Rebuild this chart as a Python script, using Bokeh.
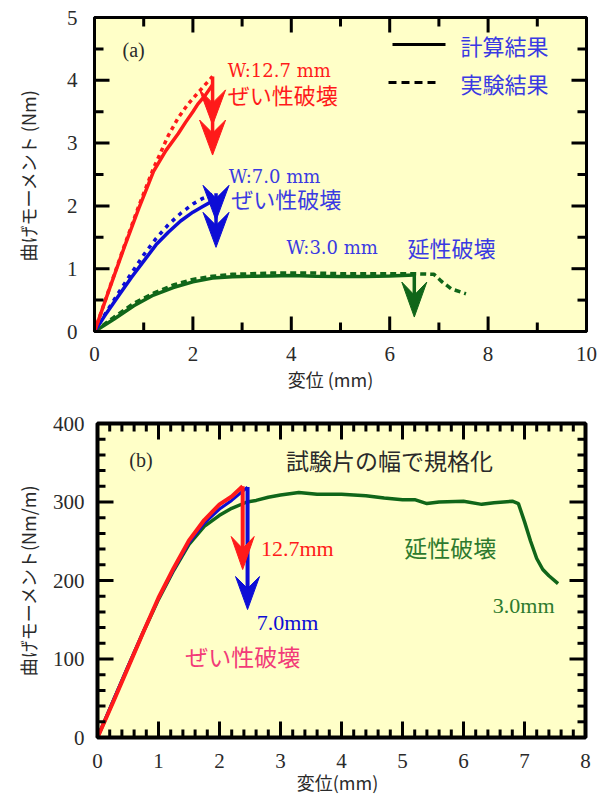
import math
from bokeh.plotting import figure
from bokeh.layouts import column
from bokeh.models import Range1d, Label
from bokeh.core.properties import value
from bokeh.embed import file_html
from bokeh.resources import INLINE

# ---------------- (a) bending moment vs displacement, Nm ----------------
a_xticks = [0, 2, 4, 6, 8, 10]
a_yticks = [0, 1, 2, 3, 4, 5]

a_red_calc_x = [0, 0.3, 0.6, 0.9, 1.2, 1.45, 1.7, 1.85, 2.0, 2.1, 2.25, 2.4]
a_red_calc_y = [0, 0.67, 1.33, 1.96, 2.55, 2.88, 3.15, 3.33, 3.5, 3.62, 3.76, 3.93]
a_red_exp_x = [0, 0.3, 0.6, 0.9, 1.2, 1.5, 1.7, 1.9, 2.1, 2.25, 2.4]
a_red_exp_y = [0, 0.68, 1.35, 2.0, 2.6, 3.12, 3.4, 3.62, 3.8, 3.93, 4.06]

a_blue_calc_x = [0, 0.25, 0.5, 0.75, 1.0, 1.25, 1.5, 1.75, 2.0, 2.2, 2.45]
a_blue_calc_y = [0, 0.3, 0.58, 0.86, 1.12, 1.38, 1.58, 1.76, 1.9, 1.99, 2.1]
a_blue_exp_x = [0, 0.25, 0.5, 0.75, 1.0, 1.25, 1.5, 1.75, 2.0, 2.2, 2.45]
a_blue_exp_y = [0, 0.32, 0.63, 0.93, 1.22, 1.48, 1.7, 1.88, 2.03, 2.12, 2.2]

a_green_calc_x = [0, 0.4, 0.8, 1.2, 1.6, 2.0, 2.4, 2.8, 3.2, 3.6, 4.0, 4.5, 5.0, 5.5, 6.0, 6.5]
a_green_calc_y = [0, 0.2, 0.41, 0.58, 0.7, 0.79, 0.85, 0.87, 0.88, 0.885, 0.89, 0.88, 0.875, 0.875, 0.885, 0.9]
a_green_exp_x = [0, 0.4, 0.8, 1.2, 1.6, 2.0, 2.4, 2.8, 3.2, 3.6, 4.0, 4.5, 5.0, 5.5, 6.0, 6.5,
                 6.9, 7.05, 7.25, 7.55]
a_green_exp_y = [0, 0.23, 0.45, 0.61, 0.74, 0.83, 0.88, 0.91, 0.92, 0.93, 0.93, 0.93, 0.92, 0.92,
                 0.92, 0.92, 0.91, 0.8, 0.68, 0.6]

# fracture arrows: where the shaft sits and where each head points
a_red_fail_x, a_red_heads = 2.4, [3.29, 2.81]
a_blue_fail_x, a_blue_heads = 2.47, [1.77, 1.34]
a_green_fail_x, a_green_heads = 6.5, [0.23]

# ---------------- (b) normalised by specimen width, Nm/m ----------------
b_xticks = [0, 1, 2, 3, 4, 5, 6, 7, 8]
b_yticks = [0, 100, 200, 300, 400]

b_green_x = [0, 0.25, 0.5, 0.75, 1.0, 1.25, 1.5, 1.75, 2.0, 2.2, 2.45, 2.6, 2.8, 3.0, 3.3,
             3.6, 4.0, 4.4, 4.7, 5.0, 5.2, 5.4, 5.6, 6.0, 6.3, 6.5, 6.8, 6.9, 7.0, 7.1,
             7.2, 7.3, 7.4, 7.55]
b_green_y = [0, 45, 90, 134, 176, 213, 246, 269, 283, 292, 300, 302, 306, 309, 312,
             310, 310, 308, 305, 303, 303, 298, 300, 301, 297, 299, 301, 298, 275, 250,
             228, 214, 206, 196]
b_blue_x = [0, 0.25, 0.5, 0.75, 1.0, 1.25, 1.5, 1.75, 2.0, 2.2, 2.46]
b_blue_y = [0, 46, 91, 135, 177, 214, 248, 273, 291, 302, 319]
b_red_x = [0, 0.25, 0.5, 0.75, 1.0, 1.25, 1.5, 1.75, 2.0, 2.2, 2.38]
b_red_y = [0, 44, 89, 134, 178, 216, 251, 277, 297, 307, 320]

b_red_heads = [214]
b_blue_heads = [163]

BG = "#ffffc8"
RED = "#ff1a1a"
BLUE = "#0d0dd6"
GREEN = "#106619"
TXT_BLUE = "#3a3ae2"
PINK = "#f23a78"
GREEN_TXT = "#2e7a2e"
INK = "#2a2a2a"
JP = "Noto Sans CJK JP"
SERIF = "Liberation Serif"


def panel(W, H, box, xr, yr):
    """A figure whose whole canvas is the data frame; the plotting box (box = left, right,
    top, bottom in pixels) is drawn inside it so that ticks and labels sit around it."""
    bl, br, bt, bb = box
    sx = (br - bl) / (xr[1] - xr[0])
    sy = (bb - bt) / (yr[1] - yr[0])
    p = figure(x_range=Range1d(xr[0] - bl / sx, xr[1] + (W - br) / sx),
               y_range=Range1d(yr[0] - (H - bb) / sy, yr[1] + bt / sy),
               frame_width=W, frame_height=H,
               min_border_left=0, min_border_right=0, min_border_top=0, min_border_bottom=0,
               x_axis_type=None, y_axis_type=None,
               output_backend="svg", toolbar_location=None,
               background_fill_color="white", border_fill_color="white",
               outline_line_color=None)
    p.quad(left=[xr[0]], right=[xr[1]], bottom=[yr[0]], top=[yr[1]],
           fill_color=BG, line_color=None)
    return p, sx, sy


def tick_positions(lo, hi, maj, mn, lmaj, lmin):
    n = int(round((hi - lo) / mn))
    out = []
    for k in range(n + 1):
        v = float(lo + k * mn)
        out.append((v, lmaj if abs(v / maj - round(v / maj)) < 1e-6 else lmin))
    return out


def frame_and_ticks(p, xr, yr, xmaj, xmin, ymaj, ymin, sx, sy, lmaj, lmin, width):
    """Inward ticks on all four sides (one short line each), then the black frame."""
    x_lo, x_hi, y_lo, y_hi = float(xr[0]), float(xr[1]), float(yr[0]), float(yr[1])
    for v, L in tick_positions(x_lo, x_hi, xmaj, xmin, lmaj, lmin):
        p.line([v, v], [y_lo, y_lo + L / sy], line_color="black", line_width=3)
        p.line([v, v], [y_hi, y_hi - L / sy], line_color="black", line_width=3)
    for v, L in tick_positions(y_lo, y_hi, ymaj, ymin, lmaj, lmin):
        p.line([x_lo, x_lo + L / sx], [v, v], line_color="black", line_width=3)
        p.line([x_hi, x_hi - L / sx], [v, v], line_color="black", line_width=3)
    p.quad(left=[x_lo], right=[x_hi], bottom=[y_lo], top=[y_hi],
           fill_color=None, line_color="black", line_width=width)


def tick_labels(p, xr, yr, xticks, yticks, sx, sy, xoff_px, yoff_px):
    p.text(x=xticks, y=[yr[0] - xoff_px / sy] * len(xticks), text=[str(v) for v in xticks],
           text_font=value(SERIF), text_font_size="21px", text_color=INK,
           text_align="center", text_baseline="middle")
    p.text(x=[xr[0] - yoff_px / sx] * len(yticks), y=yticks, text=[str(v) for v in yticks],
           text_font=value(SERIF), text_font_size="21px", text_color=INK,
           text_align="right", text_baseline="middle")


def titles(p, xtitle, ytitle, xt_pos, yt_pos):
    p.text(x=[xt_pos[0]], y=[xt_pos[1]], text=[xtitle], text_font=value(JP),
           text_font_size="18px", text_color=INK, text_align="center", text_baseline="middle")
    p.text(x=[yt_pos[0]], y=[yt_pos[1]], text=[ytitle], text_font=value(JP),
           text_font_size="18px", text_color=INK, text_align="center", text_baseline="middle",
           angle=math.pi / 2)


def draw_arrow(p, x, top, tips, color, sx, sy, w_px, h_px, notch_px, shaft_w):
    p.line([x, x], [top, min(tips) + h_px * 0.4 / sy], line_color=color, line_width=shaft_w)
    xs, ys = [], []
    hw = w_px / 2 / sx
    for tip in tips:
        xs.append([x, x + hw, x, x - hw])
        ys.append([tip, tip + h_px / sy, tip + (h_px - notch_px) / sy, tip + h_px / sy])
    p.patches(xs, ys, fill_color=color, line_color=color, line_width=1)


def lbl(p, x, y, text, color, font, size, align="left"):
    p.add_layout(Label(x=x, y=y, text=text, text_color=color, text_font=font,
                       text_font_size=size, text_baseline="middle", text_align=align))


# ---------------- panel (a) ----------------
XRA, YRA = (0, 10), (0, 5)
pa, sxa, sya = panel(603, 395, (94, 586, 17, 331), XRA, YRA)

pa.line(a_green_exp_x, a_green_exp_y, color=GREEN, line_width=3.5, line_dash="6 4")
pa.line(a_green_calc_x, a_green_calc_y, color=GREEN, line_width=3.5)
pa.line(a_blue_exp_x, a_blue_exp_y, color=BLUE, line_width=3.5, line_dash="4 5")
pa.line(a_blue_calc_x, a_blue_calc_y, color=BLUE, line_width=3.5)
pa.line(a_red_exp_x, a_red_exp_y, color=RED, line_width=3.5, line_dash="4 4")
pa.line(a_red_calc_x, a_red_calc_y, color=RED, line_width=3.5)

draw_arrow(pa, a_red_fail_x, max(a_red_exp_y[-1], a_red_calc_y[-1]), a_red_heads,
           RED, sxa, sya, 26, 35, 13, 3.5)
draw_arrow(pa, a_blue_fail_x, max(a_blue_exp_y[-1], a_blue_calc_y[-1]), a_blue_heads,
           BLUE, sxa, sya, 26, 35, 13, 3.5)
draw_arrow(pa, a_green_fail_x, a_green_exp_y[a_green_exp_x.index(6.5)], a_green_heads,
           GREEN, sxa, sya, 25, 35, 13, 3.5)

frame_and_ticks(pa, XRA, YRA, 2, 1, 1, 0.5, sxa, sya, 15, 9, 3)
tick_labels(pa, XRA, YRA, a_xticks, a_yticks, sxa, sya, 22, 17)
titles(pa, "変位 (mm)", "曲げモーメント (Nm)",
       (XRA[0] + 236 / sxa, YRA[0] - 47 / sya), (XRA[0] - 67 / sxa, YRA[0] + 156 / sya))


# key: black solid = computed, black dashed = measured (placed in pixels from the box corner)
def box_px_a(px, py):
    return XRA[0] + px / sxa, YRA[1] - py / sya


k1a, k1b = box_px_a(298, 27), box_px_a(351, 27)
k2a, k2b = box_px_a(294, 65), box_px_a(343, 65)
pa.line([k1a[0], k1b[0]], [k1a[1], k1b[1]], color="black", line_width=3)
pa.line([k2a[0], k2b[0]], [k2a[1], k2b[1]], color="black", line_width=3, line_dash="8 5")
t1, t2 = box_px_a(366, 27), box_px_a(366, 65)
lbl(pa, t1[0], t1[1], "計算結果", TXT_BLUE, JP, "22px")
lbl(pa, t2[0], t2[1], "実験結果", TXT_BLUE, JP, "22px")

lbl(pa, 0.57, 4.48, "(a)", INK, SERIF, "20px")
lbl(pa, 2.71, 4.15, "W:12.7 mm", RED, "DejaVu Serif", "18px")
lbl(pa, 2.71, 3.78, "ぜい性破壊", RED, JP, "22px")
lbl(pa, 2.73, 2.47, "W:7.0 mm", TXT_BLUE, "DejaVu Serif", "18px")
lbl(pa, 2.78, 2.12, "ぜい性破壊", TXT_BLUE, JP, "22px")
lbl(pa, 3.9, 1.34, "W:3.0 mm", TXT_BLUE, "DejaVu Serif", "18px")
lbl(pa, 6.36, 1.34, "延性破壊", TXT_BLUE, JP, "22px")

# ---------------- panel (b) ----------------
XRB, YRB = (0, 8), (0, 400)
pb, sxb, syb = panel(603, 399, (97, 585, 28, 342), XRB, YRB)

pb.line(b_green_x, b_green_y, color=GREEN, line_width=3.5)
pb.line(b_blue_x, b_blue_y, color=BLUE, line_width=3)
pb.line(b_red_x, b_red_y, color=RED, line_width=4)

draw_arrow(pb, b_blue_x[-1], b_blue_y[-1], b_blue_heads, BLUE, sxb, syb, 24, 33, 12, 4)
draw_arrow(pb, b_red_x[-1], b_red_y[-1], b_red_heads, RED, sxb, syb, 23, 33, 12, 4)

frame_and_ticks(pb, XRB, YRB, 1, 0.2, 100, 20, sxb, syb, 16, 8, 4)
tick_labels(pb, XRB, YRB, b_xticks, b_yticks, sxb, syb, 23, 13)
titles(pb, "変位(mm)", "曲げモーメント(Nm/m)",
       (XRB[0] + 240 / sxb, YRB[0] - 44 / syb), (XRB[0] - 70 / sxb, YRB[0] + 157 / syb))

lbl(pb, 0.52, 354, "(b)", INK, SERIF, "20px")
lbl(pb, 3.09, 354, "試験片の幅で規格化", INK, JP, "23px")
lbl(pb, 2.68, 241, "12.7mm", RED, SERIF, "22px")
lbl(pb, 2.61, 146, "7.0mm", BLUE, SERIF, "22px")
lbl(pb, 1.44, 104, "ぜい性破壊", PINK, JP, "23px")
lbl(pb, 5.03, 243, "延性破壊", GREEN_TXT, JP, "23px")
lbl(pb, 6.48, 168, "3.0mm", GREEN_TXT, SERIF, "22px")

layout = column(pa, pb, spacing=0)
open("out.html", "w").write(file_html(layout, INLINE))
